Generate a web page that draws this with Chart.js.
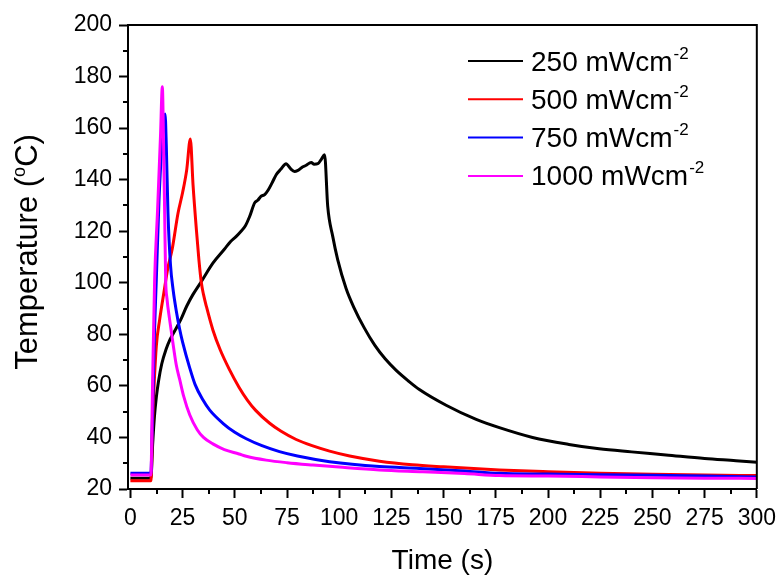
<!DOCTYPE html>
<html>
<head>
<meta charset="utf-8">
<script src="https://cdn.jsdelivr.net/npm/chart.js@4/dist/chart.umd.min.js"></script>
<style>
  html, body { margin: 0; padding: 0; background: #fff; }
  #c { display: block; }
</style>
</head>
<body>
<canvas id="c" width="783" height="575"></canvas>
<script>
// ---- data ----
const seriesLabels = ['250 mWcm', '500 mWcm', '750 mWcm', '1000 mWcm'];
const seriesSup = '-2';
const seriesColors = ['#000000', '#ff0000', '#0000ff', '#ff00ff'];

const time250 = [0, 5, 9.8, 10.7, 11.5, 12.4, 13.5, 15, 17, 19, 21, 24, 27, 30, 34, 39.5, 45, 48, 50.7, 53, 55, 57.1, 59.5, 61, 62.5, 64.3, 66, 68, 69.9, 72, 74.6, 76, 77, 78.6, 80, 82.6, 84, 86.6, 88, 89.8, 91.5, 93, 94.5, 96.9, 99.3, 103.3, 107, 112, 117, 122, 127.3, 133, 138.4, 151.2, 165.6, 176.7, 192.6, 210, 224.5, 240, 256.5, 275, 290, 300];
const temp250 = [24.2, 24.2, 24.2, 38, 48, 55.5, 62, 68.5, 74, 78, 81, 85.5, 91, 95.5, 100.5, 107.6, 113, 116, 118, 120, 122, 125.7, 131, 132, 133.5, 134.2, 136, 139, 142, 144, 146.2, 145, 144, 143.2, 143.5, 145, 145.5, 146.7, 146, 146.2, 148, 149.7, 129.6, 118, 108.9, 97.8, 90.5, 82.5, 75.8, 70.5, 66, 62, 58.6, 52.5, 47, 43.8, 40, 37.3, 35.6, 34.4, 33.2, 31.8, 31, 30.4];

const time500 = [0, 9.8, 10.8, 12.4, 14, 16, 18, 20, 22.8, 25, 27, 28.7, 30, 31.6, 32.8, 34, 35, 36.4, 39.5, 43, 47.5, 52, 56, 60, 66.7, 72, 79.4, 87, 95.4, 105, 119.3, 135, 150, 176.7, 200, 225, 250, 275, 300];
const temp500 = [23.2, 23.2, 49.4, 75.3, 85.6, 96, 106, 113, 127, 135, 144, 155.8, 138, 120.6, 109, 99.9, 95.5, 90.8, 81.7, 74, 66.2, 59.5, 54.5, 50.5, 45.5, 42.5, 39.2, 36.8, 34.7, 32.8, 30.8, 29.4, 28.6, 27.4, 26.7, 26.1, 25.7, 25.4, 25.2];

const time750 = [0, 9.8, 10.5, 11.5, 12.4, 13.7, 15, 16.6, 17.2, 18, 19.2, 20.5, 22, 23.6, 25, 28.4, 31, 34.7, 37.9, 44.3, 50, 55.5, 63, 71.4, 80, 95.4, 119.3, 138.4, 160, 176.7, 200, 225, 250, 275, 300];
const temp750 = [26.1, 26.1, 45, 80, 101, 132, 152, 165.5, 153, 127, 107, 97, 89, 82, 77, 67, 60.5, 54.6, 50.7, 45.5, 42, 39.5, 36.8, 34.5, 32.8, 30.6, 28.7, 28, 27, 26.1, 25.8, 25.5, 25.3, 25, 24.7];

const time1000 = [0, 9.8, 10.6, 11.6, 13, 14.4, 15.3, 15.9, 16.4, 16.9, 17.5, 18.8, 20.3, 22, 23.6, 25.5, 28.4, 32, 35, 39.5, 45, 52, 55.5, 65, 75, 87.4, 100, 119.3, 140, 160, 176.7, 200, 225, 250, 275, 300];
const temp1000 = [25.4, 25.4, 60, 101, 128, 156.8, 176, 153, 127, 101, 94, 85.6, 77, 68, 62.5, 56, 48.8, 43, 40, 37.5, 35.3, 33.6, 32.7, 31.2, 30.2, 29.3, 28.5, 27.4, 26.7, 26, 25.2, 25, 24.7, 24.4, 24.2, 24.1];

const xTicks = [0, 25, 50, 75, 100, 125, 150, 175, 200, 225, 250, 275, 300];
const yTicks = [20, 40, 60, 80, 100, 120, 140, 160, 180, 200];
const xTitle = 'Time (s)';
const yTitleParts = ['Temperature (', 'o', 'C)'];

// ---- build chart ----
const seriesTimes = [time250, time500, time750, time1000];
const seriesTemps = [temp250, temp500, temp750, temp1000];
const datasets = seriesLabels.map((lab, i) => ({
  label: lab + seriesSup,
  data: seriesTimes[i].map((t, k) => ({ x: t, y: seriesTemps[i][k] })),
  borderColor: seriesColors[i],
  backgroundColor: seriesColors[i],
  borderWidth: 3,
  pointRadius: 0,
  cubicInterpolationMode: 'monotone',
  fill: false,
  order: 3 - i
}));

const FONT = '"Liberation Sans", Arial, sans-serif';

const decorPlugin = {
  id: 'decor',
  afterDraw(chart) {
    const ctx = chart.ctx;
    const a = chart.chartArea;
    const xs = chart.scales.x, ys = chart.scales.y;
    ctx.save();
    // frame top & right
    ctx.strokeStyle = '#000';
    ctx.lineWidth = 2;
    ctx.beginPath();
    ctx.moveTo(a.left, a.top); ctx.lineTo(a.right, a.top); ctx.lineTo(a.right, a.bottom);
    ctx.stroke();
    // minor ticks
    ctx.beginPath();
    for (let i = 0; i < xTicks.length - 1; i++) {
      const v = (xTicks[i] + xTicks[i + 1]) / 2;
      const px = Math.round(xs.getPixelForValue(v));
      ctx.moveTo(px, a.bottom); ctx.lineTo(px, a.bottom + 5);
    }
    for (let i = 0; i < yTicks.length - 1; i++) {
      const v = (yTicks[i] + yTicks[i + 1]) / 2;
      const py = Math.round(ys.getPixelForValue(v));
      ctx.moveTo(a.left, py); ctx.lineTo(a.left - 5, py);
    }
    ctx.stroke();

    // y title with superscript
    ctx.fillStyle = '#000';
    ctx.textBaseline = 'alphabetic';
    ctx.textAlign = 'left';
    const mainF = '31px ' + FONT, supF = '18px ' + FONT;
    ctx.font = mainF; const w1 = ctx.measureText(yTitleParts[0]).width;
    const w3 = ctx.measureText(yTitleParts[2]).width;
    ctx.font = supF; const w2 = ctx.measureText(yTitleParts[1]).width;
    const tw = w1 + w2 + w3;
    ctx.save();
    ctx.translate(37, 252);
    ctx.rotate(-Math.PI / 2);
    const x0 = -tw / 2;
    ctx.font = mainF; ctx.fillText(yTitleParts[0], x0, 0);
    ctx.font = supF; ctx.fillText(yTitleParts[1], x0 + w1, -12);
    ctx.font = mainF; ctx.fillText(yTitleParts[2], x0 + w1 + w2, 0);
    ctx.restore();

    // legend
    const legY0 = 61, legStep = 38.3;
    chart.data.datasets.forEach((ds, i) => {
      const y = legY0 + i * legStep;
      ctx.strokeStyle = ds.borderColor;
      ctx.lineWidth = 2;
      ctx.beginPath(); ctx.moveTo(468, y); ctx.lineTo(523, y); ctx.stroke();
      ctx.fillStyle = '#000';
      ctx.font = '28px ' + FONT;
      const txt = seriesLabels[i];
      ctx.fillText(txt, 531, y + 9.5);
      const tw2 = ctx.measureText(txt).width;
      ctx.font = '17px ' + FONT;
      ctx.fillText(seriesSup, 531 + tw2 + 1, y - 2.5);
    });
    ctx.restore();
  }
};

new Chart(document.getElementById('c'), {
  type: 'line',
  data: { datasets },
  options: {
    responsive: false,
    animation: false,
    devicePixelRatio: 1,
    layout: { padding: { left: 0, right: 25, top: 25, bottom: 0 } },
    plugins: { legend: { display: false }, tooltip: { enabled: false }, title: { display: false } },
    scales: {
      x: {
        type: 'linear',
        min: -1.15,
        max: 300,
        afterBuildTicks: s => { s.ticks = xTicks.map(v => ({ value: v })); },
        afterFit: s => { s.height = 86; },
        ticks: { color: '#000', font: { family: FONT, size: 23 }, padding: 7, maxRotation: 0, autoSkip: false },
        grid: { display: true, drawOnChartArea: false, drawTicks: true, tickLength: 9, tickWidth: 2, tickColor: '#000', color: '#000' },
        border: { display: true, color: '#000', width: 2 },
        title: { display: true, text: xTitle, color: '#000', font: { family: FONT, size: 28, lineHeight: 1 }, padding: { top: 0, bottom: 0 } }
      },
      y: {
        type: 'linear',
        min: 20,
        max: 200,
        afterBuildTicks: s => { s.ticks = yTicks.map(v => ({ value: v })); },
        afterFit: s => { s.width = 128; },
        ticks: { color: '#000', font: { family: FONT, size: 23 }, padding: 7, autoSkip: false },
        grid: { display: true, drawOnChartArea: false, drawTicks: true, tickLength: 9, tickWidth: 2, tickColor: '#000', color: '#000' },
        border: { display: true, color: '#000', width: 2 }
      }
    }
  },
  plugins: [decorPlugin]
});
</script>
</body>
</html>
